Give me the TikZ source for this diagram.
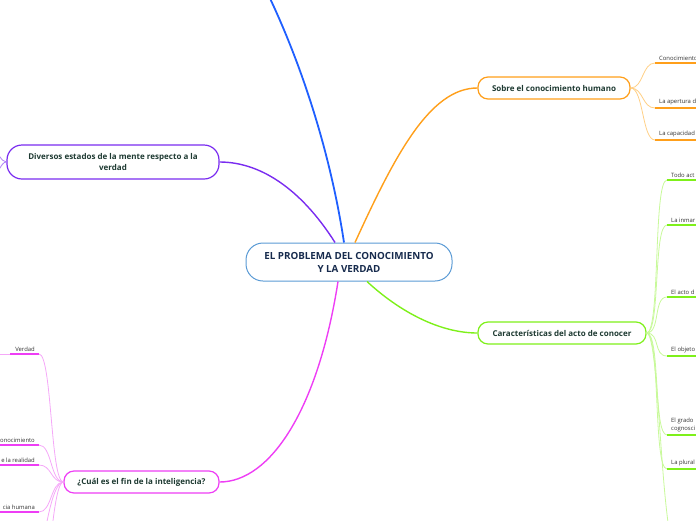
\documentclass[tikz,border=0pt]{standalone}
\usepackage{fontspec}
\setmainfont{Open Sans}
\usetikzlibrary{calc}
\definecolor{cBlue}{HTML}{1F5FFF}
\definecolor{cPurple}{HTML}{7A2CF0}
\definecolor{cOrange}{HTML}{FF9F1A}
\definecolor{cOrangeL}{HTML}{FFCF85}
\definecolor{cGreen}{HTML}{7EF01A}
\definecolor{cGreenL}{HTML}{C8F99A}
\definecolor{cMag}{HTML}{EE3EF5}
\definecolor{cMagL}{HTML}{F5A8F8}
\definecolor{cCenter}{HTML}{5B9BD5}
\definecolor{txtNavy}{HTML}{172B4D}
\definecolor{txtGreen}{HTML}{1E3A32}
\definecolor{txtGray}{HTML}{333333}
\begin{document}
\begin{tikzpicture}[x=1pt,y=-1pt,
  mainbox/.style={draw, line width=1.2pt, fill=white, inner sep=0pt, align=center,
     minimum height=22pt, rounded corners=10pt, text=txtGreen,
     font=\bfseries\fontsize{8}{11}\selectfont},
  lbl/.style={inner xsep=4pt, inner ysep=2.5pt, text=txtGray, align=left,
     font=\fontsize{5.9}{8.5}\selectfont},
  conn/.style={line width=0.8pt},
  uline/.style={line width=1.8pt},
  mainconn/.style={line width=1.4pt}
]
\useasboundingbox (0,0) rectangle (696,520);
\clip (0,0) rectangle (696,520);

% central node
\node[draw=cCenter, line width=1pt, fill=white, rounded corners=17pt,
  minimum width=206pt, minimum height=38pt, inner sep=0pt, align=center,
  text=txtNavy, font=\bfseries\fontsize{9.8}{13}\selectfont]
  (center) at (349,262) {EL PROBLEMA DEL CONOCIMIENTO\\Y LA VERDAD};

% main topics
\node[mainbox, draw=cPurple, minimum width=212pt, minimum height=34pt, rounded corners=15pt]
  (div) at (113,162) {Diversos estados de la mente respecto a la\\verdad};
\node[mainbox, draw=cOrange, minimum width=152pt] (sobre) at (554,88) {Sobre el conocimiento humano};
\node[mainbox, draw=cGreen, minimum width=168pt] (car) at (562,333) {Características del acto de conocer};
\node[mainbox, draw=cMag, minimum width=155pt] (cual) at (141.5,482) {¿Cuál es el fin de la inteligencia?};

\coordinate (top) at (266,-10);

% main connectors
\draw[mainconn, cBlue, line width=1.8pt] ([xshift=-5pt]center.north) .. controls (330,150) and (300,60) .. (top);
\draw[mainconn, cPurple] ([xshift=-14pt]center.north) .. controls (305,195) and (265,162) .. (div.east);
\draw[mainconn, cOrange] ([xshift=6pt]center.north) .. controls (395,155) and (430,88) .. (sobre.west);
\draw[mainconn, cGreen] ([xshift=18pt]center.south) .. controls (400,312) and (440,333) .. (car.west);
\draw[mainconn, cMag] ([xshift=-11pt]center.south) .. controls (318,410) and (270,482) .. (cual.east);

% Diversos offscreen children
\coordinate (d1) at (-12,150);
\coordinate (d2) at (-12,176);
\draw[conn, cPurple!60] (div.west) .. controls (0,162) and (0,150) .. (d1);
\draw[conn, cPurple!60] (div.west) .. controls (0,162) and (0,176) .. (d2);

% Sobre children
\node[lbl, anchor=south west] (o1) at (655,63) {Conocimiento};
\node[lbl, anchor=south west] (o2) at (655,108) {La apertura d};
\node[lbl, anchor=south west] (o3) at (655,140) {La capacidad};
\foreach \n in {o1,o2,o3}{
  \draw[conn, cOrangeL] (sobre.east) .. controls +(13,0) and +(-13,0) .. (\n.south west);
  \draw[uline, cOrange] (\n.south west) -- ++(50,0);
}

% Caracteristicas children
\node[lbl, anchor=south west] (g1) at (667,180) {Todo act};
\node[lbl, anchor=south west] (g2) at (667,225) {La inmar};
\node[lbl, anchor=south west] (g3) at (667,297) {El acto d};
\node[lbl, anchor=south west] (g4) at (667,356) {El objeto};
\node[lbl, anchor=south west] (g5) at (667,435) {El grado\\cognosci};
\node[lbl, anchor=south west] (g6) at (667,469) {La plural};
\foreach \n in {g1,g2,g3,g4,g5,g6}{
  \draw[conn, cGreenL] (car.east) .. controls +(14,0) and +(-14,0) .. (\n.south west);
  \draw[uline, cGreen] (\n.south west) -- ++(40,0);
}
\coordinate (g7) at (680,560);
\draw[conn, cGreenL] (car.east) .. controls +(14,0) and +(-20,0) .. (g7);

% Cual children
\node[lbl, anchor=south east] (m1) at (39,354) {Verdad};
\node[lbl, anchor=south east] (m2) at (39,445) {onocimiento};
\node[lbl, anchor=south east] (m3) at (39,465) {e la realidad};
\node[lbl, anchor=south east] (m4) at (39,512) {cia humana};
\foreach \n in {m1,m2,m3,m4}{
  \draw[conn, cMagL] (cual.west) .. controls +(-13,0) and +(13,0) .. (\n.south east);
}
\draw[uline, cMag] (m1.south east) -- ++(-29,0);
\draw[conn, cMagL] ([xshift=-29pt]m1.south east) -- ++(-20,0);
\foreach \n in {m2,m3,m4}{
  \draw[uline, cMag] (\n.south east) -- ++(-45,0);
}
\coordinate (m5) at (40,560);
\coordinate (m6) at (45,600);
\draw[conn, cMagL] (cual.west) .. controls +(-12,0) and +(4,-20) .. (m5);
\draw[conn, cMagL] (cual.west) .. controls +(-10,0) and +(4,-30) .. (m6);
\end{tikzpicture}
\end{document}
